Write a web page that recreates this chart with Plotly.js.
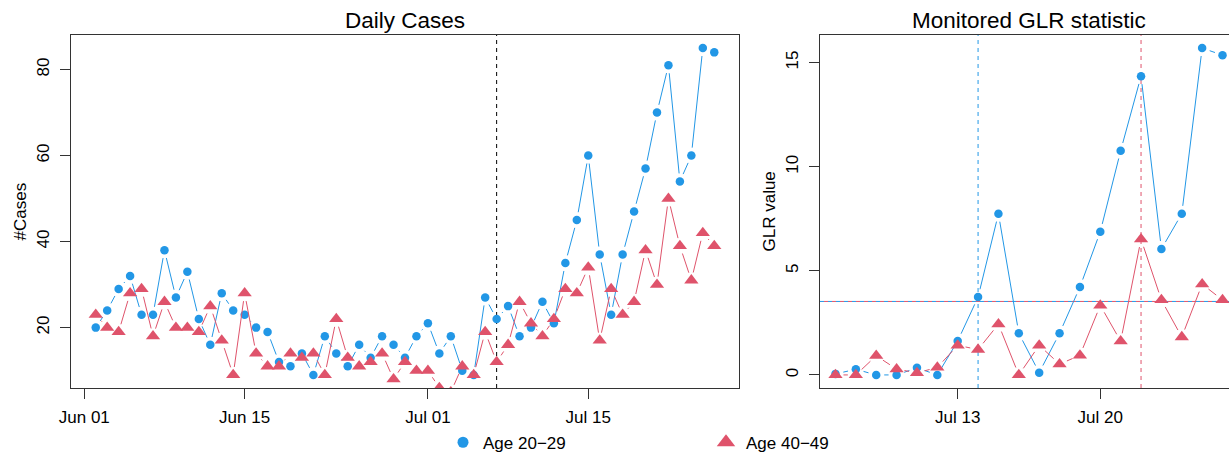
<!DOCTYPE html>
<html>
<head>
<meta charset="utf-8">
<script src="https://cdn.plot.ly/plotly-3.0.1.min.js"></script>
<style>
html,body{margin:0;padding:0;overflow:hidden;background:#fff}
#chart{width:1240px;height:453px}
</style>
</head>
<body>
<div id="chart"></div>
<script>
// ---------------- data ----------------
const caseDates = [
  '2020-06-02','2020-06-03','2020-06-04','2020-06-05','2020-06-06','2020-06-07','2020-06-08','2020-06-09',
  '2020-06-10','2020-06-11','2020-06-12','2020-06-13','2020-06-14','2020-06-15','2020-06-16','2020-06-17',
  '2020-06-18','2020-06-19','2020-06-20','2020-06-21','2020-06-22','2020-06-23','2020-06-24','2020-06-25',
  '2020-06-26','2020-06-27','2020-06-28','2020-06-29','2020-06-30','2020-07-01','2020-07-02','2020-07-03',
  '2020-07-04','2020-07-05','2020-07-06','2020-07-07','2020-07-08','2020-07-09','2020-07-10','2020-07-11',
  '2020-07-12','2020-07-13','2020-07-14','2020-07-15','2020-07-16','2020-07-17','2020-07-18','2020-07-19',
  '2020-07-20','2020-07-21','2020-07-22','2020-07-23','2020-07-24','2020-07-25','2020-07-26'
];
const casesAge2029 = [
  20,24,29,32,23,23,38,27,33,22,16,28,24,23,20,19,12,11,14,9,18,14,11,16,
  13,18,16,13,18,21,14,18,10,9,27,22,25,18,20,
  26,21,35,45,60,37,23,37,47,57,70,81,54,60,85,84
];
const casesAge4049 = [
  23,20,19,28,29,18,26,20,20,19,25,17,9,28,14,11,11,14,13,14,9,22,13,11,
  12,14,8,12,10,10,6,5,11,9,19,12,16,26,21,
  18,22,29,28,34,17,29,23,26,38,30,50,39,31,42,39
];
const glrDates = [
  '2020-07-07','2020-07-08','2020-07-09','2020-07-10','2020-07-11','2020-07-12','2020-07-13','2020-07-14',
  '2020-07-15','2020-07-16','2020-07-17','2020-07-18','2020-07-19','2020-07-20','2020-07-21','2020-07-22',
  '2020-07-23','2020-07-24','2020-07-25','2020-07-26'
];
const glrAge2029 = [0.05,0.27,0,0,0.34,0,1.63,3.74,7.74,2.0,0.11,2.0,4.22,6.88,10.77,14.35,6.05,7.74,15.7,15.36];
const glrAge4049 = [0,0,0.92,0.28,0.1,0.36,1.42,1.22,2.44,0,1.42,0.52,0.94,3.34,1.62,6.52,3.6,1.82,4.36,3.6];
const glrThreshold = 3.53;
const outbreakStart = '2020-07-07';
const alarmAge2029 = '2020-07-14';
const alarmAge4049 = '2020-07-22';
const seriesNames = ['Age 20\u221229', 'Age 40\u221249'];
const panelTitles = ['Daily Cases', 'Monitored GLR statistic'];
const yTitles = ['#Cases', 'GLR value'];
const leftXTicks = ['2020-06-01','2020-06-15','2020-07-01','2020-07-15'];
const rightXTicks = ['2020-07-13','2020-07-20'];
const leftYTicks = [20,40,60,80];
const rightYTicks = [0,5,10,15];

// ---------------- styling / layout geometry ----------------
const BLUE = '#2297E6', RED = '#DF536B';
const W = 1240, H = 453;
const LP = {x0: 71, x1: 739}, RP = {x0: 820, x1: 1238}, PY = {top: 35, bottom: 388};
const FONT = 'Liberation Sans, Arial, Helvetica, sans-serif';
const GAP = 8;

const toMs = d => Date.parse(d + 'T00:00:00Z');
function rPad(vals) {
  const mn = Math.min(...vals), mx = Math.max(...vals), s = mx - mn;
  return [mn - 0.04 * s, mx + 0.04 * s];
}
function gapSegments(xs, ys, xr, yr, wpx, hpx, gap) {
  const kx = wpx / (xr[1] - xr[0]), ky = hpx / (yr[1] - yr[0]);
  const ox = [], oy = [];
  for (let i = 0; i < xs.length - 1; i++) {
    const ddx = xs[i + 1] - xs[i], ddy = ys[i + 1] - ys[i];
    const len = Math.hypot(ddx * kx, ddy * ky);
    if (len <= 2 * gap) continue;
    const f = gap / len;
    ox.push(xs[i] + f * ddx, xs[i + 1] - f * ddx, null);
    oy.push(ys[i] + f * ddy, ys[i + 1] - f * ddy, null);
  }
  return {x: ox, y: oy};
}

const caseMs = caseDates.map(toMs);
const glrMs = glrDates.map(toMs);
const lxr = rPad(caseMs), lyr = rPad(casesAge2029);
const rxr = rPad(glrMs), ryr = rPad(glrAge2029.concat(glrAge4049));
const plotH = PY.bottom - PY.top;

const traces = [];
function addSeries(xs, ys, xr, yr, wpx, color, symbol, size, xa, ya) {
  const seg = gapSegments(xs, ys, xr, yr, wpx, plotH, GAP);
  traces.push({x: seg.x, y: seg.y, xaxis: xa, yaxis: ya, mode: 'lines', showlegend: false,
    hoverinfo: 'skip', line: {color: color, width: 1}, connectgaps: false});
  traces.push({x: xs, y: ys, xaxis: xa, yaxis: ya, mode: 'markers', showlegend: false,
    marker: {color: color, symbol: symbol, size: size, line: {width: 0}}});
}
const lw = LP.x1 - LP.x0, rw = RP.x1 - RP.x0;
addSeries(caseMs, casesAge2029, lxr, lyr, lw, BLUE, 'circle', 8.5, 'x', 'y');
addSeries(caseMs, casesAge4049, lxr, lyr, lw, RED, 'triangle-up', 12.4, 'x', 'y');
addSeries(glrMs, glrAge2029, rxr, ryr, rw, BLUE, 'circle', 8.5, 'x2', 'y2');
addSeries(glrMs, glrAge4049, rxr, ryr, rw, RED, 'triangle-up', 12.4, 'x2', 'y2');
// legend entries
traces.push({x: [null], y: [null], mode: 'markers', name: seriesNames[0], showlegend: true,
  marker: {color: BLUE, symbol: 'circle', size: 11}});
traces.push({x: [null], y: [null], mode: 'markers', name: seriesNames[1], showlegend: true,
  marker: {color: RED, symbol: 'triangle-up', size: 16}});

const axisCommon = {
  showgrid: false, zeroline: false, showline: true, mirror: true, linecolor: '#333', linewidth: 1,
  ticks: 'outside', ticklen: 10, tickcolor: '#333', tickwidth: 1,
  tickfont: {family: FONT, size: 17, color: '#000'}
};
const px2fx = p => p / W, py2fy = p => 1 - p / H;
const dashShift = 4 / rw;

const layout = {
  width: W, height: H,
  margin: {l: 0, r: 0, t: 0, b: 0, pad: 0, autoexpand: false},
  paper_bgcolor: '#fff', plot_bgcolor: '#fff',
  font: {family: FONT, size: 17, color: '#000'},
  xaxis: Object.assign({}, axisCommon, {type: 'date', domain: [px2fx(LP.x0), px2fx(LP.x1)],
    range: lxr, tickvals: leftXTicks, tickformat: '%b %d', anchor: 'y', ticklabelstandoff: 4}),
  yaxis: Object.assign({}, axisCommon, {domain: [py2fy(PY.bottom), py2fy(PY.top)], range: lyr,
    tickvals: leftYTicks, tickangle: -90, anchor: 'x', ticklabelstandoff: 4}),
  xaxis2: Object.assign({}, axisCommon, {type: 'date', domain: [px2fx(RP.x0), px2fx(RP.x1)],
    range: rxr, tickvals: rightXTicks, tickformat: '%b %d', anchor: 'y2', ticklabelstandoff: 4}),
  yaxis2: Object.assign({}, axisCommon, {domain: [py2fy(PY.bottom), py2fy(PY.top)], range: ryr,
    tickvals: rightYTicks, tickangle: -90, anchor: 'x2', ticklabelstandoff: 4}),
  showlegend: true,
  legend: {orientation: 'h', x: px2fx(443), xanchor: 'left', y: py2fy(442.7), yanchor: 'middle',
    bgcolor: 'rgba(0,0,0,0)', font: {family: FONT, size: 17}, itemwidth: 30, entrywidth: 218,
    itemclick: false, itemdoubleclick: false},
  shapes: [
    {type: 'line', xref: 'x', yref: 'y domain', x0: outbreakStart, x1: outbreakStart, y0: 0, y1: 1,
      line: {color: '#000', width: 1, dash: '4px,4px'}, layer: 'below'},
    {type: 'line', xref: 'x2', yref: 'y2 domain', x0: alarmAge2029, x1: alarmAge2029, y0: 0, y1: 1,
      line: {color: BLUE, width: 1, dash: '4px,4px'}, layer: 'below'},
    {type: 'line', xref: 'x2', yref: 'y2 domain', x0: alarmAge4049, x1: alarmAge4049, y0: 0, y1: 1,
      line: {color: RED, width: 1, dash: '4px,4px'}, layer: 'below'},
    {type: 'line', xref: 'x2 domain', yref: 'y2', x0: 0, x1: 1, y0: glrThreshold, y1: glrThreshold,
      line: {color: BLUE, width: 1, dash: '4px,4px'}, layer: 'below'},
    {type: 'line', xref: 'x2 domain', yref: 'y2', x0: dashShift, x1: 1, y0: glrThreshold, y1: glrThreshold,
      line: {color: RED, width: 1, dash: '4px,4px'}, layer: 'below'}
  ],
  annotations: [
    {text: panelTitles[0], xref: 'paper', yref: 'paper', x: px2fx((LP.x0 + LP.x1) / 2), y: py2fy(20.5),
      xanchor: 'center', yanchor: 'middle', showarrow: false, font: {family: FONT, size: 22.5}},
    {text: panelTitles[1], xref: 'paper', yref: 'paper', x: px2fx((RP.x0 + RP.x1) / 2), y: py2fy(20.5),
      xanchor: 'center', yanchor: 'middle', showarrow: false, font: {family: FONT, size: 22.5}},
    {text: yTitles[0], xref: 'paper', yref: 'paper', x: px2fx(20), y: py2fy((PY.top + PY.bottom) / 2),
      xanchor: 'center', yanchor: 'middle', textangle: -90, showarrow: false, font: {family: FONT, size: 17}},
    {text: yTitles[1], xref: 'paper', yref: 'paper', x: px2fx(769), y: py2fy((PY.top + PY.bottom) / 2),
      xanchor: 'center', yanchor: 'middle', textangle: -90, showarrow: false, font: {family: FONT, size: 17}}
  ]
};

Plotly.newPlot('chart', traces, layout, {staticPlot: true, displayModeBar: false});
</script>
</body>
</html>
